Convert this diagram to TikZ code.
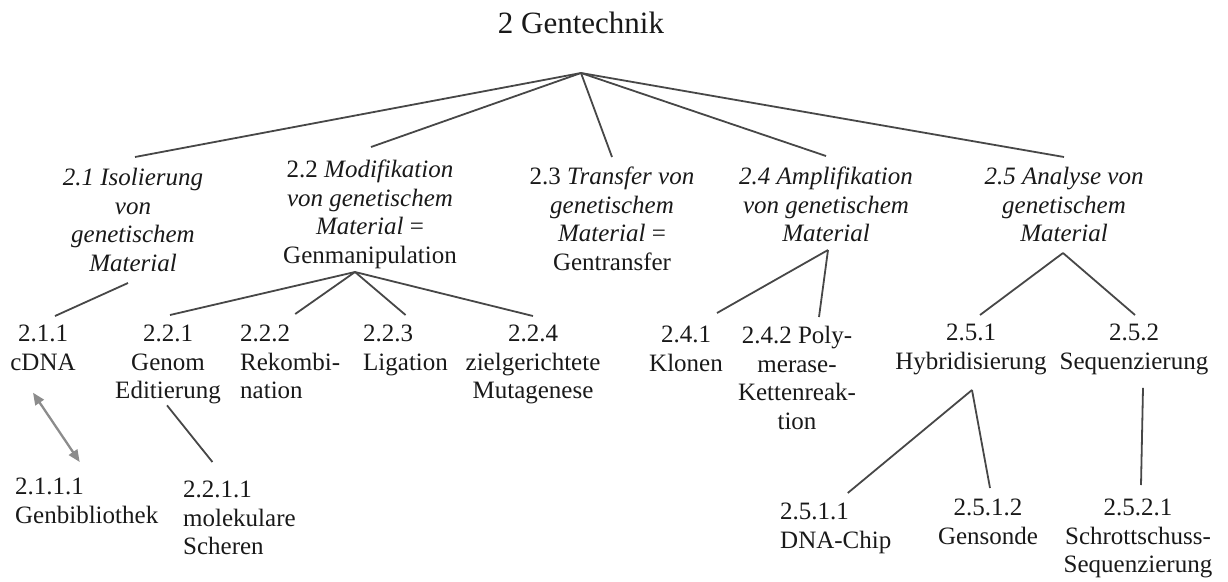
\documentclass[tikz,border=0pt]{standalone}
\usepackage{fontspec}
\setmainfont{Liberation Serif}
\usetikzlibrary{arrows.meta}
\begin{document}
\begin{tikzpicture}[x=1pt,y=-1pt,
  lbl/.style={inner sep=0pt, anchor=north, align=center, text=black!90,
    font=\fontsize{25}{28.5}\selectfont},
  lbll/.style={lbl, anchor=north west, align=left},
  ttl/.style={inner sep=0pt, text=black!90, font=\fontsize{31}{36}\selectfont},
  edge/.style={draw=black!72, line width=1.8pt},
  link/.style={draw=black!45, line width=2.3pt,
    {Triangle[length=12pt,width=10pt]}-{Triangle[length=12pt,width=10pt]}}]
\useasboundingbox (0,0) rectangle (1228,581);

% title and main fork
\node[ttl] (root) at (581,23) {2 Gentechnik};
\coordinate (f0) at (581,73);

% first level
\node[lbl] (n21) at (133,168) {\textit{2.1 Isolierung}\\\textit{von}\\\textit{genetischem}\\\textit{Material}};
\node[lbl] (n22) at (370,160) {2.2 \textit{Modifikation}\\\textit{von genetischem}\\\textit{Material} =\\Genmanipulation};
\node[lbl] (n23) at (612,167) {2.3 \textit{Transfer von}\\\textit{genetischem}\\\textit{Material} =\\Gentransfer};
\node[lbl] (n24) at (826,167) {\textit{2.4 Amplifikation}\\\textit{von genetischem}\\\textit{Material}};
\node[lbl] (n25) at (1064,167) {\textit{2.5 Analyse von}\\\textit{genetischem}\\\textit{Material}};

% second level
\node[lbl]  (n211) at (43,325)  {2.1.1\\cDNA};
\node[lbl]  (n221) at (168,325) {2.2.1\\Genom\\Editierung};
\node[lbll] (n222) at (240,325) {2.2.2\\Rekombi-\\nation};
\node[lbll] (n223) at (363,325) {2.2.3\\Ligation};
\node[lbl]  (n224) at (533,325) {2.2.4\\zielgerichtete\\Mutagenese};
\node[lbl]  (n241) at (686,326) {2.4.1\\Klonen};
\node[lbl]  (n242) at (797,326) {2.4.2 Poly-\\merase-\\Kettenreak-\\tion};
\node[lbl]  (n251) at (971,324) {2.5.1\\Hybridisierung};
\node[lbl]  (n252) at (1134,324) {2.5.2\\Sequenzierung};

% third level
\node[lbll] (n2111) at (15,478)  {2.1.1.1\\Genbibliothek};
\node[lbll] (n2211) at (183,481) {2.2.1.1\\molekulare\\Scheren};
\node[lbll] (n2511) at (780,503) {2.5.1.1\\DNA-Chip};
\node[lbl]  (n2512) at (988,499) {2.5.1.2\\Gensonde};
\node[lbl]  (n2521) at (1138,499) {2.5.2.1\\Schrottschuss-\\Sequenzierung};

% sub-forks
\coordinate (f21) at (128,283);
\coordinate (f22) at (355,272);
\coordinate (f24) at (828,250);
\coordinate (f25) at (1063,253);
\coordinate (f251) at (972,390);

% root to first level
\draw[edge] (f0) -- ([xshift=2pt,yshift=11pt]n21.north);
\draw[edge] (f0) -- ([xshift=1pt,yshift=13pt]n22.north);
\draw[edge] (f0) -- ([yshift=10pt]n23.north);
\draw[edge] (f0) -- ([yshift=11pt]n24.north);
\draw[edge] (f0) -- ([yshift=10pt]n25.north);

% first to second level
\draw[edge] (f21) -- ([xshift=12pt,yshift=9pt]n211.north);
\draw[edge] (f22) -- ([xshift=2pt,yshift=10pt]n221.north);
\draw[edge] (f22) -- ([xshift=5pt,yshift=11pt]n222.north);
\draw[edge] (f22) -- ([yshift=10pt]n223.north);
\draw[edge] (f22) -- ([yshift=9pt]n224.north);
\draw[edge] (f24) -- ([xshift=31pt,yshift=13pt]n241.north);
\draw[edge] (f24) -- ([xshift=22pt,yshift=9pt]n242.north);
\draw[edge] (f25) -- ([xshift=9pt,yshift=9pt]n251.north);
\draw[edge] (f25) -- ([xshift=1pt,yshift=9pt]n252.north);

% second to third level
\draw[link] ([xshift=-10pt,yshift=-22pt]n211.south) -- ([xshift=-7pt,yshift=16pt]n2111.north);
\draw[edge] ([xshift=-1pt,yshift=-1pt]n221.south) -- ([xshift=-27pt,yshift=19pt]n2211.north);
\draw[edge] (f251) -- ([xshift=12pt,yshift=10pt]n2511.north);
\draw[edge] (f251) -- ([xshift=2pt,yshift=11pt]n2512.north);
\draw[edge] ([xshift=9pt,yshift=-13pt]n252.south) -- ([xshift=3pt,yshift=14pt]n2521.north);
\end{tikzpicture}
\end{document}
